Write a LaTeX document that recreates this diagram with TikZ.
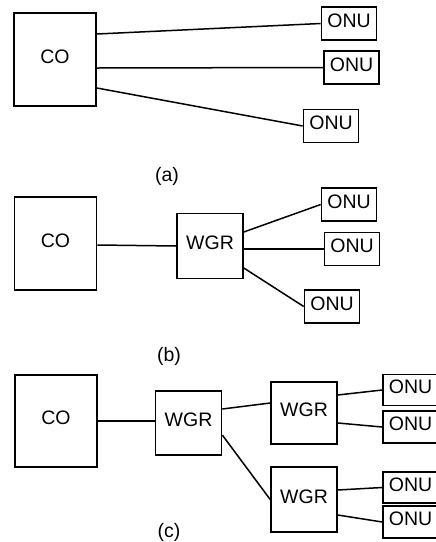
\documentclass[tikz,border=0pt]{standalone}
\usepackage{fontspec}
\setmainfont{Liberation Sans}
\usepackage{tikz}
\usetikzlibrary{calc}
\pgfdeclarelayer{nodelayer}
\pgfdeclarelayer{edgelayer}
\pgfsetlayers{edgelayer,nodelayer,main}
\tikzstyle{none}=[inner sep=-1pt]
\tikzset{box/.style={inner sep=0pt, line width=1.6pt, draw=black, text height=1.4ex, text depth=0pt,
text centered, anchor=center}}
\tikzset{co/.style={box, minimum width=82pt, minimum height=93pt}}
\tikzset{wgr/.style={box, minimum width=66pt, minimum height=65pt}}
\tikzset{onu/.style={box, minimum width=55pt, minimum height=33pt}}
\tikzset{fibre/.style={line width=1.5pt}}

\begin{document}
\begin{tikzpicture}[x=1pt, y=-1pt, every node/.style={font=\fontsize{19.5}{22}\selectfont}]
        \useasboundingbox (0, 0) rectangle (436, 542);
        \begin{pgfonlayer}{nodelayer}
            % (a) direct fibres
            \node [style=co] (0) at (55, 59.5) {CO};
            \node [style=onu] (1) at (349, 23.5) {ONU};
            \node [style=onu] (2) at (351.5, 67.5) {ONU};
            \node [style=onu] (3) at (331, 126) {ONU};
            \node [style=none] (4) at (167, 176) {(a)};
            % (b) one router
            \node [style=co] (5) at (55.5, 243.5) {CO};
            \node [style=wgr] (6) at (210, 246) {WGR};
            \node [style=onu] (7) at (349, 204.5) {ONU};
            \node [style=onu] (8) at (352, 249) {ONU};
            \node [style=onu] (9) at (332, 306.5) {ONU};
            \node [style=none] (10) at (169, 356) {(b)};
            % (c) cascaded routers
            \node [style=co, minimum height=92pt] (11) at (56, 421) {CO};
            \node [style=wgr, minimum height=64pt] (12) at (188.5, 423) {WGR};
            \node [style=wgr, minimum height=62pt] (13) at (304, 413) {WGR};
            \node [style=wgr] (14) at (304, 499.5) {WGR};
            \node [style=onu, minimum height=31pt] (15) at (410.5, 390) {ONU};
            \node [style=onu, minimum height=32pt] (16) at (410.5, 427) {ONU};
            \node [style=onu, minimum height=31pt] (17) at (410.5, 487.5) {ONU};
            \node [style=onu, minimum height=32pt] (18) at (410.5, 522) {ONU};
            \node [style=none] (19) at (169, 532) {(c)};
        \end{pgfonlayer}
        \begin{pgfonlayer}{edgelayer}
            \draw [style=fibre] ([yshift=25.5pt]0.east) to (1.west);
            \draw [style=fibre] ([yshift=-8.5pt]0.east) to (2.west);
            \draw [style=fibre] ([yshift=-28.5pt]0.east) to (3.west);
            \draw [style=fibre] ([yshift=-1.5pt]5.east) to (6.west);
            \draw [style=fibre] ([yshift=14pt]6.east) to (7.west);
            \draw [style=fibre] ([yshift=-3pt]6.east) to (8.west);
            \draw [style=fibre] ([yshift=-22pt]6.east) to (9.west);
            \draw [style=fibre] (11.east) to ([yshift=2pt]12.west);
            \draw [style=fibre] ([yshift=14pt]12.east) to ([yshift=10pt]13.west);
            \draw [style=fibre] ([yshift=-12pt]12.east) to (14.west);
            \draw [style=fibre] ([yshift=18pt]13.east) to (15.west);
            \draw [style=fibre] ([yshift=-10pt]13.east) to (16.west);
            \draw [style=fibre] ([yshift=9.5pt]14.east) to (17.west);
            \draw [style=fibre] ([yshift=-15.5pt]14.east) to (18.west);
        \end{pgfonlayer}
    \end{tikzpicture}
\end{document}
